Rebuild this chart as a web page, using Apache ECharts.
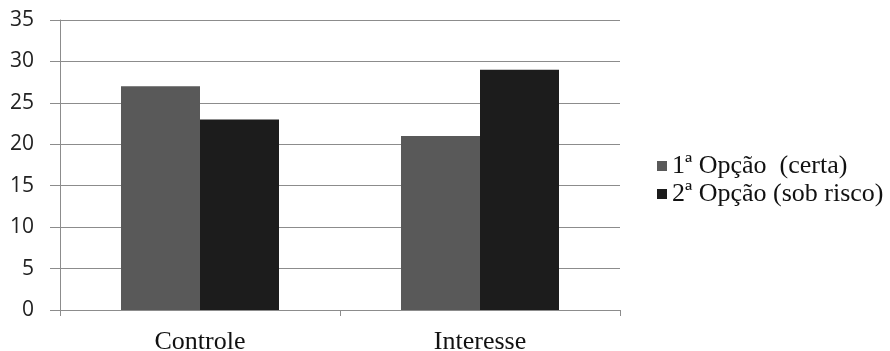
<!DOCTYPE html>
<html>
<head>
<meta charset="utf-8">
<script src="https://cdn.jsdelivr.net/npm/echarts@6/dist/echarts.min.js"></script>
<style>
  html, body { margin: 0; padding: 0; background: #fff; }
  #chart { width: 890px; height: 351px; }
</style>
</head>
<body>
<div id="chart"></div>
<script>
// Group names on the x axis
const categories = ['Controle', 'Interesse'];
// Series names and values per group
const seriesNames = ['1ª Opção  (certa)', '2ª Opção (sob risco)'];
const firstOption = [27, 21];
const secondOption = [23, 29];
const seriesValues = [firstOption, secondOption];
const seriesColors = ['#595959', '#1c1c1c'];

const chart = echarts.init(document.getElementById('chart'));
const gridColor = '#8c8c8c';

chart.setOption({
  animation: false,
  backgroundColor: '#ffffff',
  grid: {
    left: 60, right: 270, top: 20, bottom: 41,
    containLabel: false,
    outerBoundsMode: 'none'
  },
  legend: {
    orient: 'vertical',
    left: 652,
    top: 148,
    itemWidth: 10,
    itemHeight: 10,
    itemGap: 2,
    icon: 'rect',
    textStyle: { fontFamily: 'Liberation Serif', fontSize: 26, color: '#111' },
    data: seriesNames
  },
  xAxis: {
    type: 'category',
    data: categories,
    axisLine: { lineStyle: { color: gridColor, width: 1 } },
    axisTick: { show: true, length: 6, lineStyle: { color: gridColor } },
    axisLabel: { margin: 19, fontFamily: 'Liberation Serif', fontSize: 26, color: '#111' }
  },
  yAxis: {
    type: 'value',
    min: 0,
    max: 35,
    interval: 5,
    axisLine: { show: true, lineStyle: { color: gridColor, width: 1 } },
    axisTick: { show: true, length: 10, lineStyle: { color: gridColor } },
    splitLine: { lineStyle: { color: gridColor, width: 1 } },
    axisLabel: { margin: 26, fontFamily: 'Open Sans', fontSize: 21, color: '#222' }
  },
  series: seriesNames.map((name, i) => ({
    name: name,
    type: 'bar',
    data: seriesValues[i],
    barWidth: 79,
    barGap: '0%',
    itemStyle: { color: seriesColors[i] }
  }))
});
</script>
</body>
</html>
